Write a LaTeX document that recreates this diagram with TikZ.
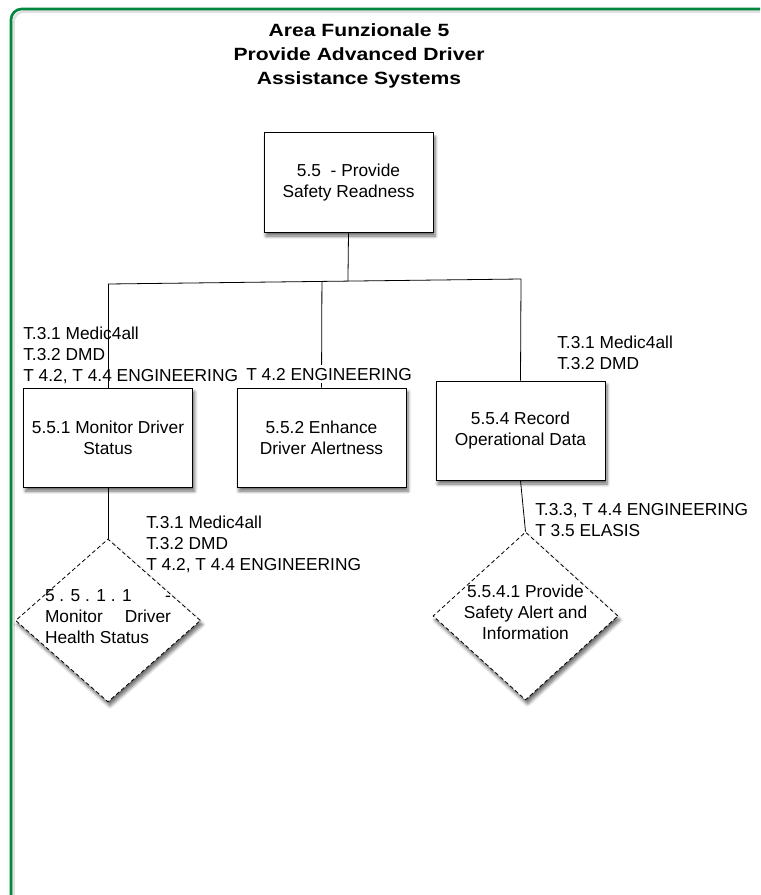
\documentclass[tikz,border=0pt]{standalone}
\usepackage{fontspec}
\setmainfont{Liberation Sans}
\usepackage{graphicx}
\usetikzlibrary{shapes.geometric}
\usetikzlibrary{shadows.blur}
\usetikzlibrary{calc}

\definecolor{framegreen}{RGB}{0,135,62}

\begin{document}
\begin{tikzpicture}[x=0.75pt,y=-0.75pt,
    txt/.style={font=\fontsize{13}{15.75}\selectfont},
    task/.style={txt,draw,line width=0.75pt,fill=white,align=center,
        minimum width=126.75pt,minimum height=74.25pt,
        blur shadow={shadow blur steps=6,shadow xshift=1.5pt,shadow yshift=-3pt,
            shadow blur radius=2.5pt,shadow opacity=60}},
    subtask/.style={txt,draw,diamond,dash pattern=on 3pt off 2pt,line width=0.6pt,
        fill=white,inner sep=0pt,minimum width=138.75pt,
        blur shadow={shadow blur steps=6,shadow xshift=1.5pt,shadow yshift=-3pt,
            shadow blur radius=2.5pt,shadow opacity=60}},
    note/.style={txt,anchor=north west,inner sep=0pt,align=left},
    link/.style={line width=0.6pt}]

    % page and green frame
    \useasboundingbox (0,0) rectangle (760,895);
    \clip (0,0) rectangle (760,895);
    \draw [black!12,line width=2pt,rounded corners=8pt] (900,11.5) -- (13.5,11.5) -- (13.5,990);
    \draw [framegreen,line width=2pt,rounded corners=8pt] (900,9) -- (11,9) -- (11,990);

    % title
    \node [anchor=north,inner sep=0pt,
        font=\fontsize{13.3}{18}\selectfont\bfseries] (title) at (359,19.9)
        {\scalebox{1.19}[1]{\begin{tabular}{@{}c@{}}Area Funzionale 5\\Provide Advanced Driver\\Assistance Systems\end{tabular}}};

    % boxes
    \node [task] (root) at (348.5,182.5) {5.5\ \ - Provide\\Safety Readness};
    \node [task] (b551) at (108,437.5) {5.5.1 Monitor Driver\\Status};
    \node [task] (b552) at (321.5,437.5) {5.5.2 Enhance\\Driver Alertness};
    \node [task] (b554) at (520.5,430.5) {5.5.4 Record\\Operational Data};

    % diamonds
    \node [subtask,minimum height=122.25pt] (d5511) at (108,620.5)
        {\smash{\makebox[0pt]{\parbox{94.5pt}{%
        \makebox[94.5pt][s]{5 . 5 . 1 . 1\hfill -}\\
        \makebox[94.5pt][s]{Monitor\hfill Driver}\\
        Health Status}}}};
    \node [subtask,minimum height=126pt] (d5541) at (525.5,616)
        {\smash{\makebox[0pt]{\parbox{100pt}{\centering
        5.5.4.1 Provide\\Safety Alert and\\Information}}}};

    % tree lines
    \coordinate (busL) at (108,284);
    \coordinate (busR) at (521,279);
    \coordinate (busM) at ($(busL)!0.581!(busR)$);
    \coordinate (bus2) at ($(busL)!0.518!(busR)$);
    \draw [link] (busL) -- (busR);
    \draw [link] (root.south) -- (busM);
    \draw [link] (busL) -- (b551.north);
    \draw [link] (bus2) -- (b552.north);
    \draw [link] (busR) -- (b554.north);
    \draw [link] (b551.south) -- (d5511.north);
    \draw [link] (b554.south) -- (d5541.north);

    % partner labels
    \node [note] (lblA) at (23,326.6) {T.3.1 Medic4all\\T.3.2 DMD\\T 4.2, T 4.4 ENGINEERING};
    \node [note,fill=white,inner ysep=2pt] (lblB) at (246,365) {T 4.2 ENGINEERING};
    \node [note] (lblC) at (557,335.6) {T.3.1 Medic4all\\T.3.2 DMD};
    \node [note] (lblD) at (146,515.6) {T.3.1 Medic4all\\T.3.2 DMD\\T 4.2, T 4.4 ENGINEERING};
    \node [note] (lblE) at (535,503.6) {T.3.3, T 4.4 ENGINEERING\\T 3.5 ELASIS};

\end{tikzpicture}
\end{document}
